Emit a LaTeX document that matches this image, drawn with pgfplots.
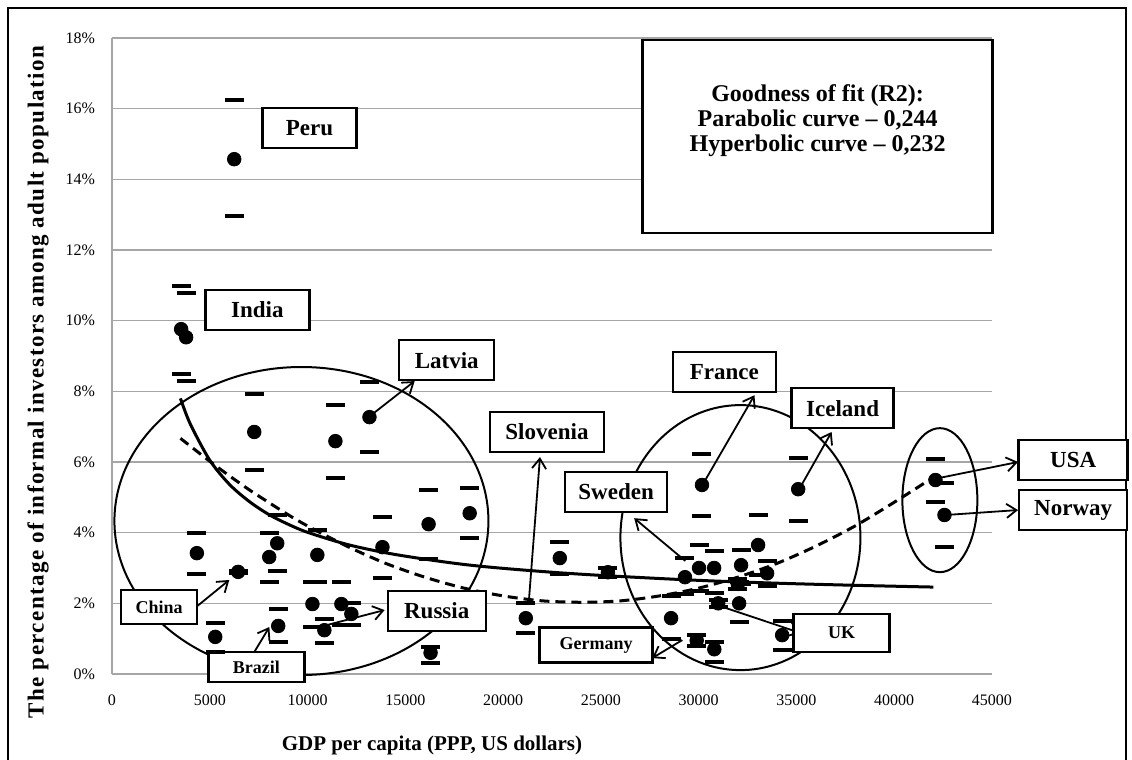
\documentclass[border=0pt]{standalone}
\usepackage{pgfplots}
\pgfplotsset{compat=1.18}
\usepackage{pgfplotstable}
\usepackage{fontspec}
\setmainfont{Liberation Serif}
\usetikzlibrary{arrows.meta}

\pgfplotstableread{
x mean lo hi
6250 14.57 12.96 16.24
3535 9.76 8.49 10.98
3790 9.53 8.29 10.78
7275 6.85 5.77 7.92
11424 6.59 5.54 7.61
13166 7.27 6.28 8.26
4340 3.42 2.83 4.00
6450 2.89 2.86 2.92
5280 1.05 0.62 1.44
8040 3.31 2.60 3.99
8450 3.70 2.91 4.50
8500 1.36 0.90 1.84
10500 3.37 2.60 4.07
10250 1.98 1.33 2.60
11730 1.98 1.40 2.60
12240 1.70 1.40 2.00
10860 1.24 0.88 1.55
13830 3.59 2.72 4.44
16190 4.24 3.25 5.20
16290 0.60 0.31 0.77
18290 4.55 3.85 5.26
21160 1.58 1.16 2.00
22900 3.28 2.83 3.73
25360 2.88 2.75 3.00
30170 5.35 4.47 6.22
35090 5.23 4.33 6.11
33040 3.65 2.80 4.50
29300 2.74 2.25 3.28
30020 3.00 2.35 3.65
30790 3.00 2.30 3.48
32170 3.08 2.55 3.50
31000 2.00 1.90 2.10
32070 2.00 1.47 2.60
28590 1.58 0.99 2.20
34270 1.10 0.68 1.50
29900 0.95 0.80 1.10
30800 0.70 0.35 0.90
33500 2.85 2.50 3.20
32000 2.55 2.40 2.70
42110 5.49 4.87 6.08
42570 4.50 3.60 5.40
}\countries

\pgfplotstableread{
x y
3500 7.80
4000 7.08
5000 6.05
6000 5.37
7000 4.89
8000 4.52
9000 4.24
10000 4.01
12000 3.67
14000 3.43
16000 3.25
18000 3.10
20000 2.99
23000 2.86
26000 2.76
30000 2.65
34000 2.57
38000 2.51
42000 2.46
}\hyper

\pgfplotstableread{
x y
3500 6.67
5000 6.02
6000 5.61
7000 5.22
8000 4.86
9000 4.51
10000 4.19
12000 3.62
14000 3.13
16000 2.74
18000 2.43
20000 2.21
22000 2.07
24000 2.03
26000 2.07
28000 2.21
30000 2.43
32000 2.74
34000 3.13
36000 3.62
38000 4.19
40000 4.86
42100 5.60
}\parab

\tikzset{
  lab/.style={draw=black, line width=1.2pt, fill=white, inner sep=1pt,
    font=\fontsize{11.5}{13}\selectfont\bfseries, minimum height=20pt},
  slab/.style={lab, font=\fontsize{9}{10}\selectfont\bfseries, minimum height=17pt},
  arr/.style={-{Straight Barb[length=5pt,width=7pt]}, line width=0.9pt},
}

\begin{document}
\begin{tikzpicture}
\useasboundingbox (-56pt,-43pt) rectangle (510pt,337pt);
\draw[line width=1.2pt] (-52pt,-45pt) -- (-52pt,333pt) -- (507pt,333pt) -- (507pt,-45pt);
\begin{axis}[
  scale only axis, width=440pt, height=318pt,
  xmin=0, xmax=45000, ymin=0, ymax=18,
  scaled x ticks=false,
  xtick={0,5000,10000,15000,20000,25000,30000,35000,40000,45000},
  xticklabels={0,5000,10000,15000,20000,25000,30000,35000,40000,45000},
  ytick={0,2,4,6,8,10,12,14,16,18},
  yticklabels={0\%,2\%,4\%,6\%,8\%,10\%,12\%,14\%,16\%,18\%},
  tick label style={font=\fontsize{8}{9}\selectfont},
  xticklabel style={yshift=-7pt},
  yticklabel style={xshift=-5pt},
  major tick length=0pt,
  ymajorgrids, grid style={gray!70, line width=0.6pt},
  axis x line*=bottom, axis y line*=left,
  axis line style={gray!70, line width=0.6pt},
  clip=false,
]
% ellipses
\draw[line width=1pt] (axis cs:9687,4.33) ellipse [x radius=93.5pt, y radius=77pt];
\draw[line width=1pt] (axis cs:32136,3.86) ellipse [x radius=60pt, y radius=66.25pt];
\draw[line width=1pt] (axis cs:42335,4.92) ellipse [x radius=18.75pt, y radius=36pt];

% fitted curves
\addplot[black, line width=1.5pt, smooth] table[x=x,y=y]{\hyper};
\addplot[black, line width=1.5pt, smooth, dash pattern=on 5pt off 3pt] table[x=x,y=y]{\parab};

% data
\addplot[only marks, mark=-, mark size=4.75pt, mark options={line width=2pt, black}] table[x=x,y=lo]{\countries};
\addplot[only marks, mark=-, mark size=4.75pt, mark options={line width=2pt, black}] table[x=x,y=hi]{\countries};
\addplot[only marks, mark=*, mark size=3.4pt, black] table[x=x,y=mean]{\countries};

% arrows
\draw[arr] (axis cs:13377,7.38) -- (axis cs:15478,8.29);
\draw[arr] (axis cs:4356,1.92) -- (axis cs:5996,2.66);
\draw[arr] (axis cs:7124,0.48) -- (axis cs:8047,1.33);
\draw[arr] (axis cs:10609,1.33) -- (axis cs:13941,1.81);
\draw[arr] (axis cs:21321,2.09) -- (axis cs:21885,6.14);
\draw[arr] (axis cs:30342,5.49) -- (axis cs:32853,7.89);
\draw[arr] (axis cs:35262,5.35) -- (axis cs:36800,6.85);
\draw[arr] (axis cs:29317,3.20) -- (axis cs:26703,4.41);
\draw[arr] (axis cs:29163,0.96) -- (axis cs:27625,0.45);
\draw[arr] (axis cs:31213,1.90) -- (axis cs:35211,1.16);
\draw[arr] (axis cs:42232,5.54) -- (axis cs:46333,6.00);
\draw[arr] (axis cs:42642,4.50) -- (axis cs:46333,4.64);

% labels
\node[lab, minimum width=47pt] at (axis cs:10097,15.45) {Peru};
\node[lab, minimum width=52pt] at (axis cs:7432,10.30) {India};
\node[lab, minimum width=47.5pt] at (axis cs:17118,8.88) {Latvia};
\node[lab, minimum width=57pt] at (axis cs:22244,6.85) {Slovenia};
\node[lab, minimum width=51.5pt] at (axis cs:31315,8.54) {France};
\node[lab, minimum width=51pt] at (axis cs:37363,7.52) {Iceland};
\node[lab, minimum width=51pt] at (axis cs:25780,5.15) {Sweden};
\node[lab, minimum width=54.5pt] at (axis cs:49152,6.05) {USA};
\node[lab, minimum width=54pt] at (axis cs:49152,4.64) {Norway};
\node[lab, minimum width=49pt] at (axis cs:16606,1.78) {Russia};
\node[slab, minimum width=38pt] at (axis cs:2409,1.90) {China};
\node[slab, minimum width=48pt, minimum height=15pt] at (axis cs:7380,0.20) {Brazil};
\node[slab, minimum width=56.5pt, minimum height=17.5pt] at (axis cs:24755,0.82) {Germany};
\node[slab, minimum width=48pt, minimum height=19pt] at (axis cs:37312,1.16) {UK};
\node[draw=black, line width=1.2pt, fill=white, minimum width=175pt, minimum height=96.5pt]
  at (axis cs:36082,15.22) {};
\node[align=center, font=\fontsize{12}{12.5}\selectfont\bfseries] at (axis cs:36082,15.65)
  {Goodness of fit (R2):\\Parabolic curve -- 0,244\\Hyperbolic curve -- 0,232};
\end{axis}
\node[rotate=90, font=\fontsize{11.5}{12}\selectfont\bfseries\addfontfeatures{LetterSpace=6}] at (-37pt,146pt)
  {The percentage of informal investors among adult population};
\node[font=\fontsize{10.5}{12}\selectfont\bfseries] at (160pt,-35.5pt) {GDP per capita (PPP, US dollars)};
\end{tikzpicture}
\end{document}
